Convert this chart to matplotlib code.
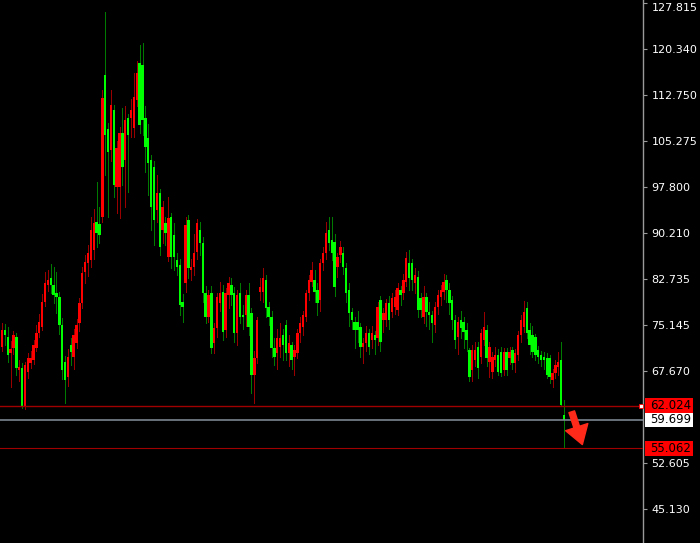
import matplotlib
matplotlib.use('Agg')
import matplotlib.pyplot as plt
from matplotlib.patches import Rectangle
from matplotlib.transforms import ScaledTranslation
import numpy as np

# OHLC, one value per bar, oldest first
opens = [
    71.6, 74.4, 73.2, 70.6, 71.4, 73.2, 67.8, 68.2, 61.9, 67.5,
    69.0, 69.5, 71.4, 73.9, 74.9, 79.0, 81.7, 82.9, 81.7, 80.4,
    79.8, 75.2, 69.1, 66.7, 71.9, 70.0, 72.3, 75.5, 78.8, 83.9,
    85.3, 85.8, 87.5, 92.1, 91.7, 92.8, 116.0, 107.2, 103.8, 110.3,
    97.7, 97.7, 106.6, 102.2, 109.0, 109.0, 107.4, 112.0, 118.0, 117.7,
    109.0, 105.7, 102.2, 101.0, 94.0, 96.8, 90.7, 91.9, 86.3, 92.8,
    89.9, 85.8, 85.0, 79.0, 82.1, 92.4, 84.2, 84.7, 87.1, 90.7,
    88.6, 80.4, 76.5, 80.4, 72.3, 74.7, 78.8, 80.6, 74.4, 80.1,
    81.7, 80.4, 73.9, 80.4, 76.8, 76.8, 80.1, 77.2, 67.0, 69.8,
    80.6, 80.6, 82.5, 78.1, 76.5, 71.4, 70.6, 71.6, 73.6, 75.2,
    70.6, 71.9, 70.0, 70.6, 73.9, 74.9, 76.5, 80.4, 82.2, 82.5,
    80.9, 79.3, 85.3, 87.0, 90.7, 89.1, 88.8, 84.7, 86.6, 87.0,
    84.5, 80.9, 77.3, 75.7, 75.7, 74.9, 71.6, 72.3, 73.9, 72.7,
    73.6, 73.1, 79.3, 76.0, 76.0, 78.8, 77.3, 78.1, 77.6, 80.9,
    80.4, 82.2, 85.3, 85.3, 82.1, 83.0, 79.6, 76.5, 79.8, 77.3,
    76.8, 75.2, 78.1, 79.8, 80.6, 82.5, 80.9, 79.3, 76.0, 73.2,
    76.0, 75.7, 74.4, 71.1, 67.8, 69.5, 71.6, 70.0, 72.7, 74.4,
    69.1, 67.5, 69.5, 70.3, 70.8, 67.8, 70.8, 69.8, 71.1, 69.0,
    70.3, 73.6, 74.9, 78.0, 74.4, 73.6, 73.2, 71.1, 70.3, 70.0,
    69.8, 69.8, 66.2, 67.4, 68.3, 69.5, 60.5]
highs = [
    75.6, 75.3, 74.8, 72.6, 74.2, 73.9, 69.5, 69.0, 69.2, 70.6,
    71.0, 72.8, 75.2, 77.0, 80.2, 83.8, 84.2, 85.2, 84.6, 83.9,
    80.6, 76.4, 70.2, 71.2, 73.0, 74.6, 76.2, 79.6, 84.6, 86.6,
    88.2, 92.9, 94.2, 98.6, 94.5, 113.6, 126.3, 108.2, 113.6, 111.2,
    105.2, 107.6, 110.6, 111.0, 109.6, 112.2, 116.4, 118.3, 121.0, 121.2,
    111.0, 108.0, 103.0, 102.0, 99.7, 97.5, 95.5, 92.8, 96.1, 93.5,
    91.9, 87.0, 86.0, 80.2, 92.8, 93.2, 86.0, 90.0, 92.6, 92.0,
    89.5, 81.5, 81.0, 81.5, 75.5, 80.5, 82.2, 81.7, 81.2, 83.0,
    82.9, 81.4, 80.9, 82.1, 78.5, 81.0, 82.1, 78.0, 71.0, 76.5,
    82.9, 84.5, 83.4, 79.0, 77.5, 73.0, 74.5, 75.5, 74.5, 76.0,
    73.5, 72.5, 72.0, 74.6, 76.5, 77.5, 81.0, 83.4, 85.5, 84.2,
    82.0, 86.0, 88.0, 92.0, 92.9, 92.9, 90.0, 87.0, 89.0, 88.0,
    85.3, 82.0, 78.0, 76.5, 77.5, 75.5, 73.0, 75.0, 74.5, 75.0,
    74.2, 79.0, 80.0, 78.0, 79.5, 80.0, 80.5, 81.0, 82.0, 81.5,
    83.5, 87.2, 87.5, 86.0, 84.5, 84.0, 80.5, 81.5, 80.5, 79.0,
    77.5, 79.0, 81.0, 81.8, 83.5, 83.3, 82.0, 80.0, 76.8, 76.5,
    77.5, 76.5, 75.5, 71.5, 72.0, 72.5, 72.5, 74.5, 77.3, 75.2,
    72.5, 70.8, 71.6, 71.3, 71.6, 71.5, 71.5, 71.6, 71.6, 71.2,
    74.2, 76.8, 79.2, 79.0, 75.5, 75.0, 73.8, 71.8, 71.0, 70.8,
    70.6, 70.3, 68.0, 69.5, 70.8, 72.4, 63.0]
lows = [
    71.0, 72.0, 69.2, 65.1, 70.4, 67.0, 66.0, 61.6, 61.5, 66.6,
    68.2, 68.8, 71.0, 73.2, 74.4, 78.3, 80.8, 80.4, 78.8, 77.2,
    73.8, 66.4, 62.4, 65.2, 68.6, 68.0, 71.4, 74.2, 77.9, 82.0,
    83.2, 84.6, 86.0, 88.0, 88.6, 92.0, 99.7, 92.8, 102.0, 96.1,
    93.5, 92.7, 98.0, 94.5, 97.0, 106.0, 105.9, 111.0, 106.5, 106.2,
    100.2, 96.5, 90.7, 88.3, 92.0, 86.6, 88.6, 88.3, 85.6, 84.5,
    84.2, 83.4, 76.8, 75.7, 80.6, 82.9, 82.5, 83.4, 86.0, 86.6,
    79.0, 75.5, 75.7, 70.6, 70.6, 73.2, 77.5, 72.8, 73.2, 78.0,
    78.5, 72.5, 72.0, 75.5, 74.5, 75.0, 73.5, 64.1, 62.4, 69.0,
    79.3, 79.0, 76.5, 75.2, 70.0, 68.6, 68.0, 70.0, 69.5, 69.5,
    68.5, 68.0, 67.0, 69.8, 72.5, 73.5, 75.8, 79.3, 81.5, 79.0,
    76.8, 77.5, 84.2, 86.0, 87.5, 85.8, 80.0, 83.0, 85.5, 83.5,
    79.0, 75.0, 74.5, 71.5, 72.5, 70.0, 69.0, 71.0, 70.5, 71.5,
    70.5, 72.0, 71.0, 74.0, 75.0, 74.5, 76.5, 77.0, 76.8, 78.5,
    79.5, 81.5, 81.0, 81.0, 80.5, 76.5, 76.5, 75.5, 75.0, 74.5,
    72.5, 74.0, 77.0, 78.5, 79.5, 79.0, 77.0, 74.5, 71.5, 70.5,
    73.0, 71.5, 71.0, 66.0, 66.0, 68.5, 66.5, 69.0, 72.0, 68.5,
    66.7, 66.5, 68.5, 67.0, 66.8, 67.0, 67.0, 68.8, 68.0, 67.5,
    69.5, 72.5, 74.0, 73.0, 70.5, 70.0, 69.5, 69.0, 68.5, 68.0,
    66.5, 65.8, 65.0, 66.5, 67.0, 61.9, 55.3]
closes = [
    74.4, 73.6, 70.3, 71.2, 73.6, 68.2, 68.3, 61.8, 68.7, 69.8,
    69.8, 71.9, 73.9, 75.7, 79.0, 82.1, 82.5, 81.7, 80.1, 79.8,
    75.2, 67.8, 66.2, 70.0, 70.8, 73.6, 75.2, 78.8, 83.7, 85.5,
    87.0, 90.7, 91.9, 90.2, 89.9, 112.3, 106.2, 103.5, 111.1, 98.1,
    104.1, 106.6, 101.0, 108.7, 106.2, 110.3, 112.5, 116.4, 107.9, 108.7,
    104.3, 101.7, 94.5, 92.4, 96.8, 87.9, 94.5, 90.2, 92.7, 86.3,
    86.3, 84.7, 78.5, 78.1, 91.5, 84.5, 84.7, 87.0, 91.9, 88.6,
    80.4, 76.5, 80.1, 71.4, 74.7, 79.8, 80.4, 74.1, 80.4, 82.1,
    80.1, 73.9, 80.1, 76.5, 76.5, 80.1, 74.9, 67.0, 69.8, 76.0,
    81.4, 82.9, 78.0, 76.5, 71.4, 70.0, 73.1, 73.1, 71.9, 70.6,
    72.3, 69.5, 71.1, 73.9, 75.5, 76.8, 80.4, 82.5, 84.2, 80.6,
    78.8, 85.3, 87.0, 90.2, 88.6, 87.0, 81.4, 86.3, 87.9, 84.7,
    80.4, 77.2, 76.0, 74.4, 74.4, 71.6, 72.3, 73.9, 71.6, 73.9,
    72.7, 78.1, 72.4, 77.2, 78.8, 76.0, 79.6, 79.8, 81.2, 80.1,
    82.5, 86.1, 82.9, 82.5, 83.4, 77.6, 77.6, 79.8, 77.3, 76.8,
    75.5, 78.1, 80.1, 80.9, 82.2, 80.9, 78.8, 76.0, 72.7, 75.7,
    74.7, 74.1, 72.7, 66.7, 71.1, 71.1, 68.2, 73.9, 74.9, 69.8,
    71.6, 70.0, 70.3, 67.5, 67.4, 70.8, 67.8, 70.8, 69.0, 70.6,
    73.6, 76.0, 77.3, 73.9, 71.9, 70.8, 70.3, 70.0, 69.5, 69.5,
    67.0, 66.7, 67.4, 68.7, 69.1, 62.1, 59.699]

tick_values = [127.815, 120.340, 112.750, 105.275, 97.800, 90.210,
               82.735, 75.145, 67.670, 52.605, 45.130]
resistance = 62.024
last_price = 59.699
target = 55.062

o = np.array(opens)
h = np.array(highs)
l = np.array(lows)
c = np.array(closes)
n = len(c)
idx = np.arange(n)
up = c >= o

fig = plt.figure(figsize=(7, 5.43), dpi=100, facecolor='black')
ax = fig.add_axes([0, 0, 643 / 700, 1])
ax.set_facecolor('black')

step = 562 / (n - 1)          # pixels per bar
px_y = 6.12                   # pixels per price unit

# wicks then bodies
wick_col = np.where(up, '#9a0000', '#007a00')
body_col = np.where(up, '#ff0000', '#00ff00')
ax.vlines(idx, l, h, colors=wick_col, linewidth=0.72, antialiased=False, zorder=2)
ax.bar(idx, np.maximum(np.abs(c - o), 1 / px_y), bottom=np.minimum(o, c),
       width=2.4 / step, color=body_col, linewidth=0, antialiased=False, zorder=3)

x_left = -2 / step
x_right = 641 / step
ax.set_xlim(x_left, x_right)
ax.set_ylim(127.815 - 540 / px_y, 127.815 + 3 / px_y)

ax.axhline(resistance, color='#a00000', lw=1.0, zorder=4)
ax.axhline(last_price, color='#7a8590', lw=1.2, zorder=4)
ax.axhline(target, color='#a00000', lw=0.8, zorder=4)
ax.plot([x_right - 0.6], [resistance], marker='s', ms=3, mfc='white',
        mec='red', mew=0.6, clip_on=False, zorder=5)

# sell arrow next to the last bar
ax.annotate('', xy=(n - 1 + 6.4, target + 0.6), xytext=(n - 1 + 2.7, resistance - 1.0),
            arrowprops=dict(arrowstyle='simple,head_length=1.1,head_width=1.4,tail_width=0.35',
                            fc='#ff2a1a', ec='#ff2a1a', shrinkA=0, shrinkB=0,
                            mutation_scale=12), zorder=6)

ax.set_xticks([])
ax.yaxis.tick_right()
ax.set_yticks(tick_values)
ax.set_yticklabels(['%.3f' % v for v in tick_values])
ax.tick_params(axis='y', colors='#9a9a9a', labelcolor='white', labelsize=8,
               length=3, width=0.8, pad=3)
for side in ['top', 'left', 'bottom']:
    ax.spines[side].set_visible(False)
ax.spines['right'].set_color('#9a9a9a')
ax.spines['right'].set_linewidth(1)

# top label sits at the very edge; nudge it down a little so it stays readable
top_lbl = ax.get_yticklabels()[0]
top_lbl.set_transform(top_lbl.get_transform() + ScaledTranslation(0, -3 / 72, fig.dpi_scale_trans))

# price tags on the axis
tr = ax.get_yaxis_transform()
tags = [(last_price, 'white', 10), (resistance, '#ff0000', 11), (target, '#ff0000', 12)]
for lvl, fc, z in tags:
    ax.add_patch(Rectangle((645 / 643, lvl - 7.5 / px_y), 48 / 643, 15 / px_y,
                           transform=tr, fc=fc, ec='none', clip_on=False, zorder=z))
    ax.text(650 / 643, lvl, '%.3f' % lvl, transform=tr, ha='left', va='center',
            fontsize=8.5, color='black', zorder=z, clip_on=False)

fig.savefig('out.png', dpi=100, facecolor='black')
